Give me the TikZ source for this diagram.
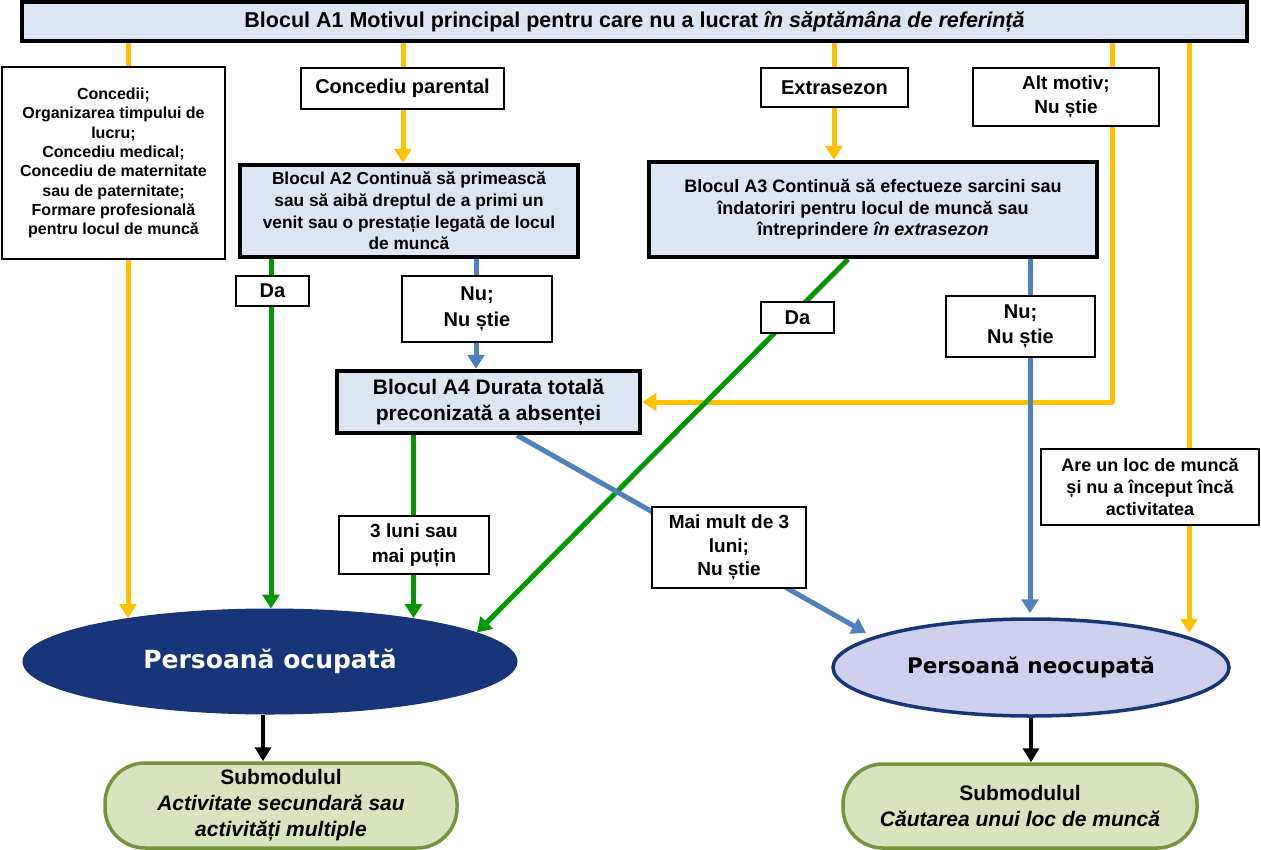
\documentclass[tikz,border=0pt]{standalone}
\usepackage{fontspec}
\setmainfont{Liberation Sans}
\newfontfamily\dejavu{DejaVu Sans}
\usetikzlibrary{shapes.geometric,arrows.meta,backgrounds}
\definecolor{hdr}{HTML}{DCE6F2}
\definecolor{ylw}{HTML}{FFC000}
\definecolor{grn}{HTML}{009A00}
\definecolor{blu}{HTML}{4F81BD}
\definecolor{navy}{HTML}{17367A}
\definecolor{lav}{HTML}{CDD0EE}
\definecolor{pillfill}{HTML}{D7E4BD}
\definecolor{pilldraw}{HTML}{77933C}
\tikzset{
  lbl/.style={draw=black, line width=1.5pt, fill=white, inner sep=0pt, align=center},
  blkbox/.style={draw=black, line width=4.5pt, fill=hdr, inner sep=0pt, align=center},
  pill/.style={draw=pilldraw, line width=3.5pt, fill=pillfill, rounded corners=40pt, inner sep=0pt, align=center,
    font=\fontsize{21}{26}\selectfont\bfseries},
  tipA/.tip={Triangle[width=17pt,length=14pt]},
  conn/.style={line width=5pt, line join=round, -tipA},
  yl/.style={conn, draw=ylw},
  gr/.style={conn, draw=grn},
  bl/.style={conn, draw=blu},
  bk/.style={line width=4pt, draw=black, -{Triangle[width=16pt,length=14pt]}},
}
\begin{document}
\begin{tikzpicture}[x=1pt,y=-1pt]
\useasboundingbox (0,0) rectangle (1261,849);
% nodes
\node[blkbox, minimum width=1225, minimum height=39, font=\fontsize{21.5}{25}\selectfont\bfseries] (A1) at (634.5,21.5)
  {Blocul A1 Motivul principal pentru care nu a lucrat \textit{în săptămâna de referință}};
\node[lbl, minimum width=223, minimum height=192, font=\fontsize{16}{19.3}\selectfont\bfseries] (lb) at (113.5,163)
  {Concedii;\\Organizarea timpului de\\lucru;\\Concediu medical;\\Concediu de maternitate\\sau de paternitate;\\Formare profesională\\pentru locul de muncă};
\node[lbl, minimum width=203, minimum height=41, font=\fontsize{20}{24}\selectfont\bfseries] (cp) at (402.5,88.5) {Concediu parental};
\node[blkbox, minimum width=338, minimum height=92, font=\fontsize{17.3}{21.7}\selectfont\bfseries] (A2) at (409,211)
  {Blocul A2 Continuă să primească\\sau să aibă dreptul de a primi un\\venit sau o prestație legată de locul\\de muncă};
\node[lbl, minimum width=147, minimum height=39, font=\fontsize{20}{24}\selectfont\bfseries] (ex) at (834.5,87.5) {Extrasezon};
\node[blkbox, minimum width=448, minimum height=95, font=\fontsize{18}{21.5}\selectfont\bfseries] (A3) at (873,209.5)
  {Blocul A3 Continuă să efectueze sarcini sau\\îndatoriri pentru locul de muncă sau\\întreprindere \textit{în extrasezon}};
\node[lbl, minimum width=186, minimum height=58, font=\fontsize{19}{24}\selectfont\bfseries] (am) at (1066,97) {Alt motiv;\\Nu știe};
\node[lbl, minimum width=73, minimum height=30, font=\fontsize{20}{24}\selectfont\bfseries] (da1) at (272.5,291) {Da};
\node[lbl, minimum width=150, minimum height=66, font=\fontsize{20}{26}\selectfont\bfseries] (nu1) at (477,309) {Nu;\\Nu știe};
\node[blkbox, minimum width=303, minimum height=62, font=\fontsize{21}{26.5}\selectfont\bfseries] (A4) at (488.5,402)
  {Blocul A4 Durata totală\\preconizată a absenței};
\node[lbl, minimum width=73, minimum height=31, font=\fontsize{20}{24}\selectfont\bfseries] (da2) at (797.5,317.5) {Da};
\node[lbl, minimum width=149, minimum height=61, font=\fontsize{20}{25}\selectfont\bfseries] (nu2) at (1020.5,326.5) {Nu;\\Nu știe};
\node[lbl, minimum width=150, minimum height=58, font=\fontsize{19}{25}\selectfont\bfseries] (tl) at (414,545) {3 luni sau\\mai puțin};
\node[lbl, minimum width=154, minimum height=81, font=\fontsize{19}{23.3}\selectfont\bfseries] (mm) at (729,547.5) {Mai mult de 3\\luni;\\Nu știe};
\node[lbl, minimum width=218, minimum height=76, font=\fontsize{18}{22}\selectfont\bfseries] (al) at (1150,487)
  {Are un loc de muncă\\și nu a început încă\\activitatea};
\node[ellipse, fill=navy, draw=navy, line width=1pt, minimum width=494, minimum height=105, inner sep=0pt,
  text=white, font=\dejavu\fontsize{25}{30}\selectfont\bfseries] (eo) at (270,661.5) {Persoană ocupată};
\node[ellipse, fill=lav, draw=navy, line width=3.5pt, minimum width=396, minimum height=97, inner sep=0pt,
  font=\dejavu\fontsize{21.5}{26}\selectfont\bfseries] (en) at (1031,667.5) {Persoană neocupată};
\node[pill, minimum width=352, minimum height=85] (s1) at (281,805.5)
  {Submodulul\\\textit{Activitate secundară sau}\\\textit{activități multiple}};
\node[pill, minimum width=354, minimum height=84] (s2) at (1020,806)
  {Submodulul\\\textit{Căutarea unui loc de muncă}};
% x positions of the connectors
\coordinate (xL) at (128,0);
\coordinate (xCP) at (403,0);
\coordinate (xEX) at (834,0);
\coordinate (xAM) at (1112,0);
\coordinate (xAL) at (1189,0);
\coordinate (xG1) at (271,0);
\coordinate (xB1) at (476,0);
\coordinate (xG2) at (413.5,0);
\coordinate (xG3) at (848,0);
\coordinate (xB2) at (1030,0);
\coordinate (xB3) at (517,0);
\coordinate (xK1) at (263,0);
\begin{scope}[on background layer]
\draw[yl] (A1.south -| xL) -- (xL |- eo.163);
\draw[yl] (A1.south -| xCP) -- (A2.north -| xCP);
\draw[yl] (A1.south -| xEX) -- (A3.north -| xEX);
\draw[yl] (A1.south -| xAM) |- (A4.east);
\draw[yl, shorten >=4pt] (A1.south -| xAL) -- (xAL |- en.11);
\draw[gr] (A2.south -| xG1) -- (xG1 |- eo.north);
\draw[bl] (A2.south -| xB1) -- (A4.north -| xB1);
\draw[gr] (A3.south -| xG3) -- (eo.8);
\draw[bl, shorten >=4pt] (A3.south -| xB2) -- (xB2 |- en.north);
\draw[gr] (A4.south -| xG2) -- (xG2 |- eo.17);
\draw[bl, shorten >=8pt] (A4.south -| xB3) -- (en.169);
\draw[bk] (eo.south -| xK1) -- (s1.north -| xK1);
\draw[bk] (en.south) -- (s2.north -| en.south);
\end{scope}
\end{tikzpicture}
\end{document}
